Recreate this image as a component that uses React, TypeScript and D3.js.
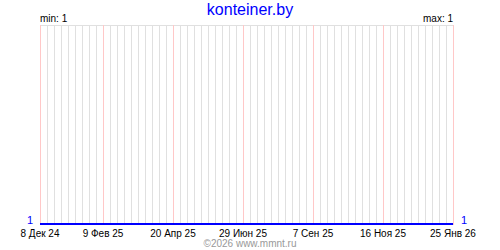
import React from "react";
import * as d3 from "d3";

const startDate = new Date(2024, 11, 8);
const endDate = new Date(2026, 0, 25);
const tickLabels = ["8 Дек 24", "9 Фев 25", "20 Апр 25", "29 Июн 25", "7 Сен 25", "16 Ноя 25", "25 Янв 26"];
const tickDates = [
  new Date(2024, 11, 8),
  new Date(2025, 1, 9),
  new Date(2025, 3, 20),
  new Date(2025, 5, 29),
  new Date(2025, 8, 7),
  new Date(2025, 10, 16),
  new Date(2026, 0, 25),
];
const values = [
  1, 1, 1, 1, 1, 1, 1, 1, 1, 1, 1, 1, 1, 1, 1, 1, 1, 1, 1, 1,
  1, 1, 1, 1, 1, 1, 1, 1, 1, 1, 1, 1, 1, 1, 1, 1, 1, 1, 1, 1,
  1, 1, 1, 1, 1, 1, 1, 1, 1, 1, 1, 1, 1, 1, 1, 1, 1, 1, 1, 1,
];
const title = "konteiner.by";
const copyright = "©2026 www.mmnt.ru";

export default function App() {
  const W = 500, H = 250;
  const left = 40, right = 453, top = 25, bottom = 224;
  const x = d3.scaleTime().domain([startDate, endDate]).range([left, right]);
  const minV = d3.min(values) as number;
  const maxV = d3.max(values) as number;
  const y = d3.scaleLinear().domain([minV, maxV === minV ? minV + 1 : maxV]).range([bottom, top]);
  const weeks = d3.timeWeek.every(1)!.range(startDate, d3.timeDay.offset(endDate, 1));
  const pts = values.map((v, i) => [d3.timeWeek.offset(startDate, i), v] as [Date, number]);
  const line = d3.line<[Date, number]>().x(d => x(d[0])).y(d => y(d[1]));
  const tickSet = new Set(tickDates.map(d => d.getTime()));
  const font = "'Liberation Sans', Arial, sans-serif";
  return (
    <svg width={W} height={H} style={{ position: "absolute", left: 0, top: 0, background: "#fff" }} shapeRendering="crispEdges">
      <rect x={0} y={0} width={W} height={H} fill="#fff" />
      <text x={250} y={15} textAnchor="middle" fontFamily={font} fontSize={16} fill="#0000ff">{title}</text>
      <text x={left} y={22} fontFamily={font} fontSize={10} fill="#000">min: {minV}</text>
      <text x={right} y={22} textAnchor="end" fontFamily={font} fontSize={10} fill="#000">max: {maxV}</text>
      {weeks.filter(d => !tickSet.has(d.getTime())).map((d, i) => (
        <line key={"g" + i} x1={Math.round(x(d)) + 0.5} x2={Math.round(x(d)) + 0.5} y1={top} y2={bottom + 1} stroke="#e0e0e0" strokeWidth={1} />
      ))}
      <line x1={left} x2={right + 1} y1={top + 0.5} y2={top + 0.5} stroke="#e0e0e0" />
      {tickDates.map((d, i) => (
        <line key={"p" + i} x1={Math.round(x(d)) + 0.5} x2={Math.round(x(d)) + 0.5} y1={top} y2={bottom + 1} stroke="#ffc8c8" strokeWidth={1} />
      ))}
      <path d={line(pts) || ""} fill="none" stroke="#0000ff" strokeWidth={2} />
      <text x={33} y={224} textAnchor="end" fontFamily={font} fontSize={11} fill="#0000ff">{values[0]}</text>
      <text x={461} y={224} fontFamily={font} fontSize={11} fill="#0000ff">{values[values.length - 1]}</text>
      {tickDates.map((d, i) => (
        <text key={"t" + i} x={x(d)} y={237} textAnchor="middle" fontFamily={font} fontSize={10} fill="#000">{tickLabels[i]}</text>
      ))}
      <text x={250} y={247} textAnchor="middle" fontFamily={font} fontSize={10} fill="#999">{copyright}</text>
    </svg>
  );
}
